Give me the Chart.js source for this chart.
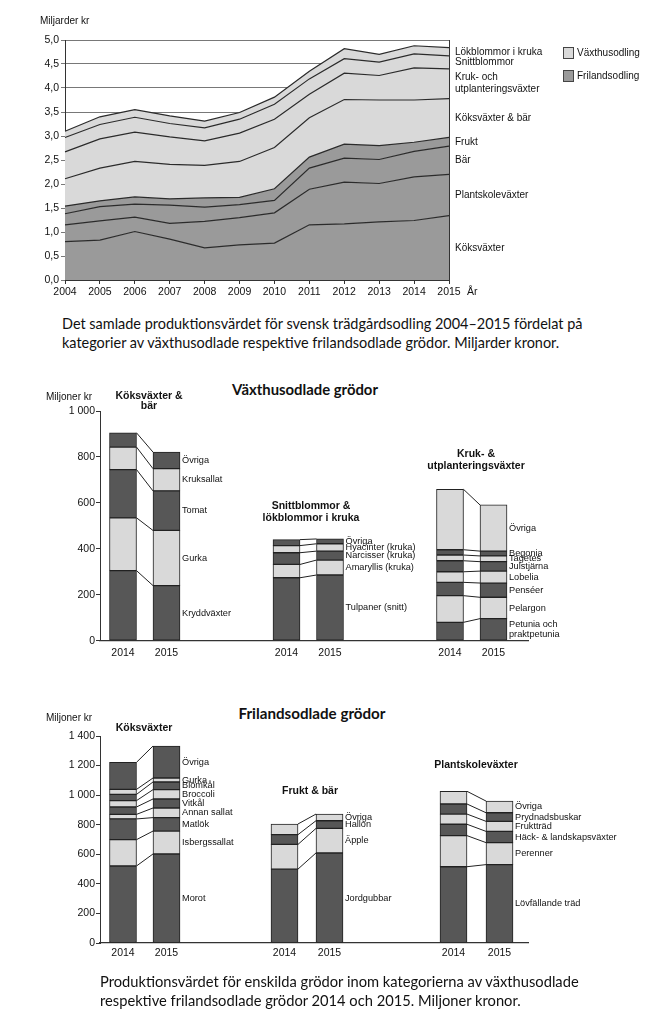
<!DOCTYPE html>
<html><head><meta charset="utf-8">
<script src="https://cdn.jsdelivr.net/npm/chart.js"></script>
<style>
body{margin:0;background:#fff;width:656px;height:1024px;position:relative;overflow:hidden;}
canvas{position:absolute;left:0;}
.cap{position:absolute;font-family:Lato,'Open Sans',sans-serif;font-size:14.5px;line-height:18.5px;color:#111;white-space:nowrap;}
.sec{position:absolute;font-family:Lato,'Open Sans',sans-serif;font-weight:bold;font-size:16px;line-height:20px;color:#111;white-space:nowrap;transform:translateX(-50%);}
</style></head>
<body>
<canvas id="c1" width="656" height="300" style="top:0px;width:656px;height:300px"></canvas>
<div class="cap" id="cap1" style="left:62px;top:315px"><span id="cap1a">Det samlade produktionsvärdet för svensk trädgårdsodling 2004–2015 fördelat på</span><br>kategorier av växthusodlade respektive frilandsodlade grödor. Miljarder kronor.</div>
<div class="sec" id="sec1" style="left:305px;top:379px">Växthusodlade grödor</div>
<canvas id="c2" width="656" height="290" style="top:380px;width:656px;height:290px"></canvas>
<div class="sec" id="sec2" style="left:312px;top:703px">Frilandsodlade grödor</div>
<canvas id="c3" width="656" height="275" style="top:700px;width:656px;height:275px"></canvas>
<div class="cap" id="cap2" style="left:100px;top:973px"><span id="cap2a">Produktionsvärdet för enskilda grödor inom kategorierna av växthusodlade</span><br>respektive frilandsodlade grödor 2014 och 2015. Miljoner kronor.</div>
<script>
// ---------- Data: top chart (Miljarder kr) ----------
const years = ['2004','2005','2006','2007','2008','2009','2010','2011','2012','2013','2014','2015'];
const koksvaxter       = [0.80,0.83,1.01,0.85,0.67,0.73,0.77,1.15,1.17,1.21,1.24,1.34];
const plantskolevaxter = [0.35,0.40,0.30,0.33,0.55,0.57,0.63,0.74,0.87,0.80,0.91,0.86];
const bar              = [0.23,0.30,0.27,0.38,0.30,0.27,0.26,0.44,0.50,0.50,0.53,0.59];
const frukt            = [0.16,0.12,0.15,0.13,0.19,0.15,0.24,0.23,0.29,0.29,0.19,0.18];
const koksvaxterOchBar = [0.57,0.68,0.74,0.72,0.68,0.75,0.86,0.82,0.93,0.95,0.88,0.81];
const krukUtplantering = [0.56,0.61,0.61,0.57,0.51,0.59,0.59,0.49,0.55,0.51,0.67,0.62];
const snittblommor     = [0.30,0.30,0.31,0.28,0.27,0.29,0.31,0.32,0.30,0.28,0.29,0.27];
const lokblommor       = [0.13,0.16,0.16,0.16,0.14,0.14,0.15,0.16,0.21,0.16,0.17,0.17];
const topTicks = [0,0.5,1,1.5,2,2.5,3,3.5,4,4.5,5];

// ---------- Data: Växthusodlade grödor (Miljoner kr) ----------
const barYears = ['2014','2015'];
const vxKoksLabels  = ['Kryddväxter','Gurka','Tomat','Kruksallat','Övriga'];
const vxKoks2014    = [305,230,210,98,62];
const vxKoks2015    = [240,240,172,97,72];
const vxSnittLabels = ['Tulpaner (snitt)','Amaryllis (kruka)','Narcisser (kruka)','Hyacinter (kruka)','Övriga'];
const vxSnitt2014   = [274,58,51,31,26];
const vxSnitt2015   = [286,65,39,32,21];
const vxKrukLabels  = ['Petunia och\npraktpetunia','Pelargon','Penséer','Lobelia','Julstjärna','Tagetes','Begonia','Övriga'];
const vxKruk2014    = [80,116,58,46,48,25,23,263];
const vxKruk2015    = [96,93,62,52,41,25,21,201];

// ---------- Data: Frilandsodlade grödor (Miljoner kr) ----------
const frKoksLabels  = ['Morot','Isbergssallat','Matlök','Annan sallat','Vitkål','Broccoli','Blomkål','Gurka','Övriga'];
const frKoks2014    = [521,178,140,31,50,43,42,34,183];
const frKoks2015    = [602,155,91,65,61,63,52,27,216];
const frFruktLabels = ['Jordgubbar','Äpple','Hallon','Övriga'];
const frFrukt2014   = [500,167,66,72];
const frFrukt2015   = [609,166,52,45];
const frPlantLabels = ['Lövfällande träd','Perenner','Häck- & landskapsväxter','Fruktträd','Prydnadsbuskar','Övriga'];
const frPlant2014   = [516,210,77,69,68,86];
const frPlant2015   = [530,149,76,68,58,79];

// ---------- Styling ----------
const FONT = "'Liberation Sans', Arial, sans-serif";
Chart.defaults.font.family = FONT;
Chart.defaults.color = '#111';
const FR_COLOR = '#9a9a9a', VX_COLOR = '#d9d9d9', LINE = '#2b2b2b';
const DARK = '#575757', LIGHT = '#d9d9d9';
const BAR_W = 27;

function fitFont(el, text, target, weight){
  const c = document.createElement('canvas').getContext('2d');
  c.font = weight + ' 100px Lato';
  const w = c.measureText(text).width;
  el.style.fontSize = (100*target/w).toFixed(2)+'px';
}
fitFont(document.getElementById('cap1'), document.getElementById('cap1a').textContent, 521, 'normal');
fitFont(document.getElementById('cap2'), document.getElementById('cap2a').textContent, 480, 'normal');
fitFont(document.getElementById('sec1'), 'Växthusodlade grödor', 146, 'bold');
fitFont(document.getElementById('sec2'), 'Frilandsodlade grödor', 147, 'bold');

// ---------- Top chart ----------
const areaSeries = [
  {label:'Köksväxter', data:koksvaxter, kind:'fr'},
  {label:'Plantskoleväxter', data:plantskolevaxter, kind:'fr'},
  {label:'Bär', data:bar, kind:'fr'},
  {label:'Frukt', data:frukt, kind:'fr'},
  {label:'Köksväxter & bär', data:koksvaxterOchBar, kind:'vx'},
  {label:'Kruk- och\nutplanteringsväxter', data:krukUtplantering, kind:'vx'},
  {label:'Snittblommor', data:snittblommor, kind:'vx'},
  {label:'Lökblommor i kruka', data:lokblommor, kind:'vx'}
];

const topDeco = {
  id:'topDeco',
  afterDatasetsDraw(chart){
    const {ctx, chartArea:a} = chart;
    ctx.save();
    ctx.strokeStyle = '#333'; ctx.lineWidth = 1;
    ctx.beginPath(); ctx.moveTo(a.right+0.5, a.top); ctx.lineTo(a.right+0.5, a.bottom); ctx.stroke();
    ctx.fillStyle = '#111';
    ctx.font = '10px ' + FONT;
    ctx.textBaseline = 'middle'; ctx.textAlign = 'left';
    const last = years.length-1;
    chart.data.datasets.forEach((ds,i)=>{
      const top = chart.getDatasetMeta(i).data[last].y;
      const bot = i===0 ? a.bottom : chart.getDatasetMeta(i-1).data[last].y;
      const mid = (top+bot)/2;
      const lines = ds.label.split('\n');
      lines.forEach((t,j)=>ctx.fillText(t, a.right+6, mid + (j-(lines.length-1)/2)*12));
    });
    ctx.fillText('Miljarder kr', 40, 21);
    ctx.font = '10.5px ' + FONT;
    ctx.fillText('År', 467, 292);
    ctx.font = '10px ' + FONT;
    [[VX_COLOR,'Växthusodling',53],[FR_COLOR,'Frilandsodling',76]].forEach(([c,t,yy])=>{
      ctx.fillStyle = c; ctx.fillRect(563, yy-5.5, 10, 11);
      ctx.strokeStyle = '#444'; ctx.strokeRect(563.5, yy-5.5, 10, 11);
      ctx.fillStyle = '#111'; ctx.fillText(t, 577, yy);
    });
    ctx.restore();
  }
};

new Chart(document.getElementById('c1'), {
  type:'line',
  data:{labels:years, datasets: areaSeries.map((s,i)=>({
    label:s.label, data:s.data, fill: i===0 ? 'origin' : '-1',
    backgroundColor: s.kind==='fr' ? FR_COLOR : VX_COLOR,
    borderColor: LINE, borderWidth:1.2, pointRadius:0, tension:0
  }))},
  options:{
    responsive:false, animation:false,
    layout:{padding:{left:0, top:40, right:207, bottom:0}},
    plugins:{legend:{display:false}, tooltip:{enabled:false}},
    scales:{
      x:{grid:{display:true, drawOnChartArea:false, drawTicks:true, tickLength:4, color:'#333'},
         border:{display:true, color:'#333'},
         ticks:{font:{size:10.5}, padding:2, maxRotation:0, autoSkip:false, color:'#111'},
         afterFit:s=>{s.height=20;}},
      y:{stacked:true, min:0, max:5,
         afterBuildTicks:s=>{s.ticks = topTicks.map(v=>({value:v}));},
         ticks:{font:{size:10.5}, padding:2, color:'#111', callback:v=>v.toFixed(1).replace('.',',')},
         grid:{color:'#555', lineWidth:0.8, tickLength:4},
         border:{display:true, color:'#333'},
         afterFit:s=>{s.width=65;}}
    }
  },
  plugins:[topDeco]
});

// ---------- Bar charts ----------
function fmtThousands(v){ return String(v).replace(/\B(?=(\d{3})+(?!\d))/g, ' '); }

function makeBarChart(id, cfg){
  const bars = [];
  cfg.groups.forEach(g=>{
    bars.push({pos:g.pos[0], vals:g.v[0], year:barYears[0]});
    bars.push({pos:g.pos[1], vals:g.v[1], year:barYears[1]});
  });
  const nSeg = Math.max(...cfg.groups.map(g=>g.labels.length));
  const datasets = [];
  for(let k=0;k<nSeg;k++){
    datasets.push({
      data: bars.filter(b=>b.vals[k]!=null).map(b=>({x:b.pos, y:b.vals[k]})),
      backgroundColor: k%2===0 ? DARK : LIGHT,
      borderColor:'#222', borderWidth:1, borderSkipped:false, barThickness:BAR_W
    });
  }
  const off = cfg.canvasTop;
  const deco = {
    id:'barDeco',
    afterDatasetsDraw(chart){
      const {ctx, scales:{x, y}} = chart;
      ctx.save();
      cfg.groups.forEach(g=>{
        const x0r = x.getPixelForValue(g.pos[0]) + BAR_W/2;
        const x1l = x.getPixelForValue(g.pos[1]) - BAR_W/2;
        const x1r = x.getPixelForValue(g.pos[1]) + BAR_W/2;
        ctx.strokeStyle = '#222'; ctx.lineWidth = 1;
        let c0=0, c1=0;
        for(let k=0;k<g.labels.length;k++){
          c0 += g.v[0][k]; c1 += g.v[1][k];
          ctx.beginPath();
          ctx.moveTo(x0r, y.getPixelForValue(c0));
          ctx.lineTo(x1l, y.getPixelForValue(c1));
          ctx.stroke();
        }
        ctx.fillStyle = '#111';
        ctx.font = '9.2px ' + FONT;
        ctx.textAlign = 'left'; ctx.textBaseline = 'middle';
        let cc = 0;
        for(let k=0;k<g.labels.length;k++){
          const mid = y.getPixelForValue(cc + g.v[1][k]/2);
          cc += g.v[1][k];
          const lines = g.labels[k].split('\n');
          lines.forEach((t,j)=>ctx.fillText(t, x1r+2, mid + (j-(lines.length-1)/2)*10.5));
        }
        ctx.font = 'bold 10.5px ' + FONT;
        ctx.textAlign = 'center';
        g.title.forEach((t,j)=>ctx.fillText(t, g.titleX, g.titleY[j]-off));
      });
      ctx.font = '10px ' + FONT;
      ctx.textAlign = 'left';
      ctx.fillText('Miljoner kr', 46, cfg.unitY - off);
      ctx.restore();
    }
  };
  new Chart(document.getElementById(id), {
    type:'bar',
    data:{datasets},
    options:{
      responsive:false, animation:false,
      layout:{padding:{left:0, top:cfg.plotTop-off, right:656-528, bottom:0}},
      plugins:{legend:{display:false}, tooltip:{enabled:false}},
      scales:{
        x:{type:'linear', stacked:true, offset:false, min:0, max:428,
           afterBuildTicks:s=>{s.ticks = bars.map(b=>({value:b.pos}));},
           ticks:{font:{size:10.5}, padding:cfg.yearPad, autoSkip:false, maxRotation:0, color:'#111',
                  callback:(v,i)=>bars[i] ? bars[i].year : ''},
           grid:{display:true, offset:false, drawOnChartArea:false, drawTicks:false, color:'#333'},
           border:{display:true, color:'#333', width:1.2},
           afterFit:s=>{s.height = cfg.canvasH - (cfg.plotBottom-off);}},
        y:{stacked:true, min:0, max:cfg.yMax,
           ticks:{stepSize:200, font:{size:10.5}, padding:1, color:'#111', callback:v=>fmtThousands(v)},
           grid:{drawOnChartArea:false, drawTicks:true, tickLength:4, color:'#333'},
           border:{display:true, color:'#333'},
           afterFit:s=>{s.width=100;}}
      }
    },
    plugins:[deco]
  });
}

makeBarChart('c2', {
  canvasTop:380, canvasH:290, plotTop:411, plotBottom:640.7, yMax:1000, yearPad:6, unitY:397,
  groups:[
    {labels:vxKoksLabels, v:[vxKoks2014, vxKoks2015], pos:[23,66.5], title:['Köksväxter &','bär'], titleX:149, titleY:[396,406]},
    {labels:vxSnittLabels, v:[vxSnitt2014, vxSnitt2015], pos:[186.5,230], title:['Snittblommor &','lökblommor i kruka'], titleX:311, titleY:[506,518]},
    {labels:vxKrukLabels, v:[vxKruk2014, vxKruk2015], pos:[350,393.5], title:['Kruk- &','utplanteringsväxter'], titleX:476, titleY:[454,466]}
  ]
});

makeBarChart('c3', {
  canvasTop:700, canvasH:275, plotTop:736, plotBottom:943, yMax:1400, yearPad:4, unitY:718,
  groups:[
    {labels:frKoksLabels, v:[frKoks2014, frKoks2015], pos:[23,66.5], title:['Köksväxter'], titleX:144, titleY:[728]},
    {labels:frFruktLabels, v:[frFrukt2014, frFrukt2015], pos:[184.5,229.5], title:['Frukt & bär'], titleX:310, titleY:[791]},
    {labels:frPlantLabels, v:[frPlant2014, frPlant2015], pos:[353.5,399.5], title:['Plantskoleväxter'], titleX:476, titleY:[765]}
  ]
});
</script>
</body></html>
